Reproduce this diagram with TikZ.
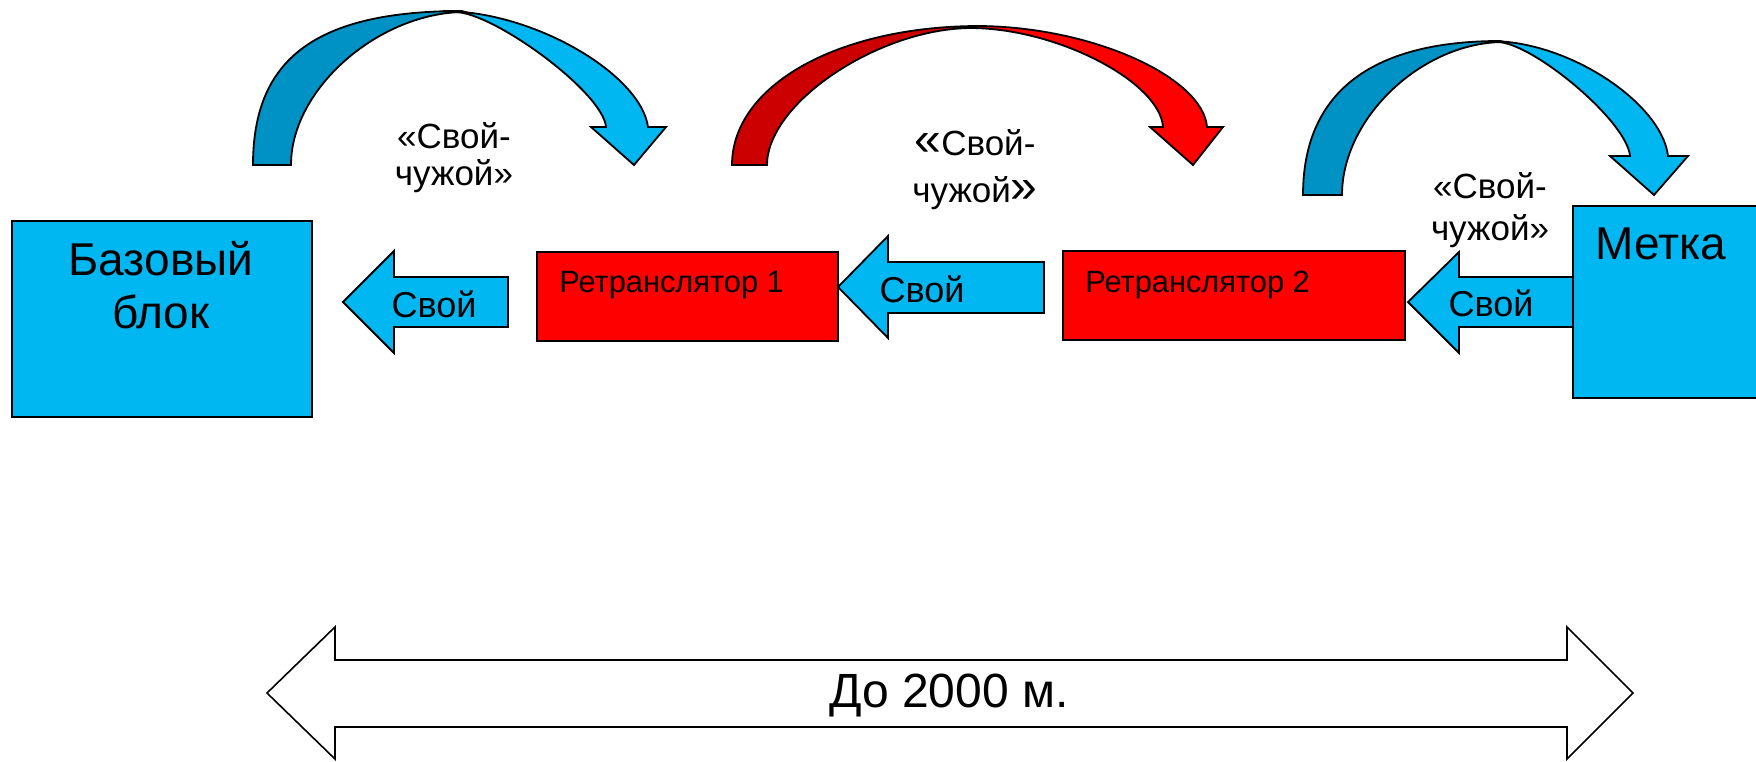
\documentclass[tikz,border=0pt]{standalone}
\usepackage{fontspec}
\setmainfont{Liberation Sans}
\definecolor{lblue}{RGB}{0,183,242}
\definecolor{dblue}{RGB}{0,146,196}
\definecolor{lred}{RGB}{255,0,0}
\definecolor{dred}{RGB}{204,0,0}
\begin{document}
\begin{tikzpicture}[x=0.5pt,y=-0.5pt,
  outl/.style={draw=black, line width=0.9pt, line join=miter},
  box/.style={draw=black, line width=0.9pt, inner sep=0pt, outer sep=0pt},
  txt/.style={inner sep=0pt, anchor=base, text=black},
  bigf/.style={font=\fontsize{23}{27}\selectfont},
  svf/.style={font=\fontsize{18}{21}\selectfont},
  rtf/.style={font=\fontsize{15.4}{18}\selectfont},
  ]
\useasboundingbox (0,0) rectangle (1756,761);
\clip (0,0) rectangle (1756,761);
\fill[white] (0,0) rectangle (1756,761);

% curved arrow 1 (blue)
\filldraw[outl, fill=dblue] (253,165) .. controls (253,60) and (314,11) .. (462,11) -- (465,12) .. controls (380,12) and (291,88) .. (291,165) -- cycle;
\filldraw[outl, fill=lblue] (443,11) .. controls (535,11) and (641,75) .. (648,127) -- (666,127) -- (634,165) -- (591,127) -- (606,127) .. controls (603,92) and (493,12) .. (455,12) -- cycle;

% curved arrow 2 (red)
\filldraw[outl, fill=dred] (732,165) .. controls (732,86) and (837,26) .. (980,26) -- (972,28) .. controls (879,28) and (767,103) .. (767,165) -- cycle;
\filldraw[outl, fill=lred] (976,26) .. controls (1091,26) and (1203,77) .. (1207,127) -- (1223,127) -- (1193,165) -- (1150,127) -- (1163,127) .. controls (1160,82) and (1057,28) .. (970,28) -- cycle;

% curved arrow 3 (blue)
\filldraw[outl, fill=dblue] (1303,195) .. controls (1303,95) and (1368,41) .. (1500,41) -- (1504,42) .. controls (1422,42) and (1342,118) .. (1342,195) -- cycle;
\filldraw[outl, fill=lblue] (1490,41) .. controls (1570,41) and (1662,104) .. (1668,156) -- (1688,156) -- (1654,195) -- (1610,156) -- (1630,156) .. controls (1627,121) and (1532,42) .. (1497,42) -- cycle;

% block arrows "Свой"
\filldraw[outl, fill=lblue] (508,277) -- (394,277) -- (394,251) -- (343,302) -- (394,353) -- (394,327) -- (508,327) -- cycle;
\filldraw[outl, fill=lblue] (1044,262) -- (888,262) -- (888,236) -- (838,287) -- (888,338) -- (888,313) -- (1044,313) -- cycle;
\filldraw[outl, fill=lblue] (1573,277) -- (1459,277) -- (1459,252) -- (1408,302) -- (1459,353) -- (1459,327) -- (1573,327) -- cycle;

% boxes
\node[box, fill=lblue, minimum width=150pt, minimum height=98pt] (base) at (162,319) {};
\node[box, fill=lred, minimum width=150.5pt, minimum height=44.5pt] (rep1) at (687.5,296.5) {};
\node[box, fill=lred, minimum width=171pt, minimum height=44.5pt] (rep2) at (1234,295.5) {};
\node[box, fill=lblue, minimum width=101pt, minimum height=96pt] (tag) at (1674,302) {};

% double arrow
\draw[line width=0.8pt, fill=white, line join=miter] (267,693) -- (335,627) -- (335,660) -- (1567,660) -- (1567,627) -- (1633,693) -- (1567,759) -- (1567,727) -- (335,727) -- (335,759) -- cycle;

% texts
\node[txt, bigf] (bt1) at (161,275) {Базовый};
\node[txt, bigf] (bt2) at (161,328) {блок};
\node[txt, bigf] (mt) at (1661,259) {Метка};
\node[txt, rtf, anchor=base west] (r1t) at (559,292) {Ретранслятор 1};
\node[txt, rtf, anchor=base west] (r2t) at (1085,292) {Ретранслятор 2};
\node[txt, svf] (s1) at (434,317) {Свой};
\node[txt, svf] (s2) at (922,302) {Свой};
\node[txt, svf] (s3) at (1491,316) {Свой};
\node[txt, align=center, font=\fontsize{17.5}{18.5}\selectfont] (l1) at (454,185) {«Свой-\\чужой»};
\node[txt, align=center, font=\fontsize{17.5}{23.5}\selectfont] (l2) at (975,202) {{\fontsize{24}{26}\selectfont«}Свой-\\чужой{\fontsize{24}{26}\selectfont»}};
\node[txt, align=center, font=\fontsize{17.5}{21}\selectfont] (l3) at (1490,240) {«Свой-\\чужой»};
\node[txt, font=\fontsize{24}{28}\selectfont] (dist) at (949,707) {До 2000 м.};
\end{tikzpicture}
\end{document}
